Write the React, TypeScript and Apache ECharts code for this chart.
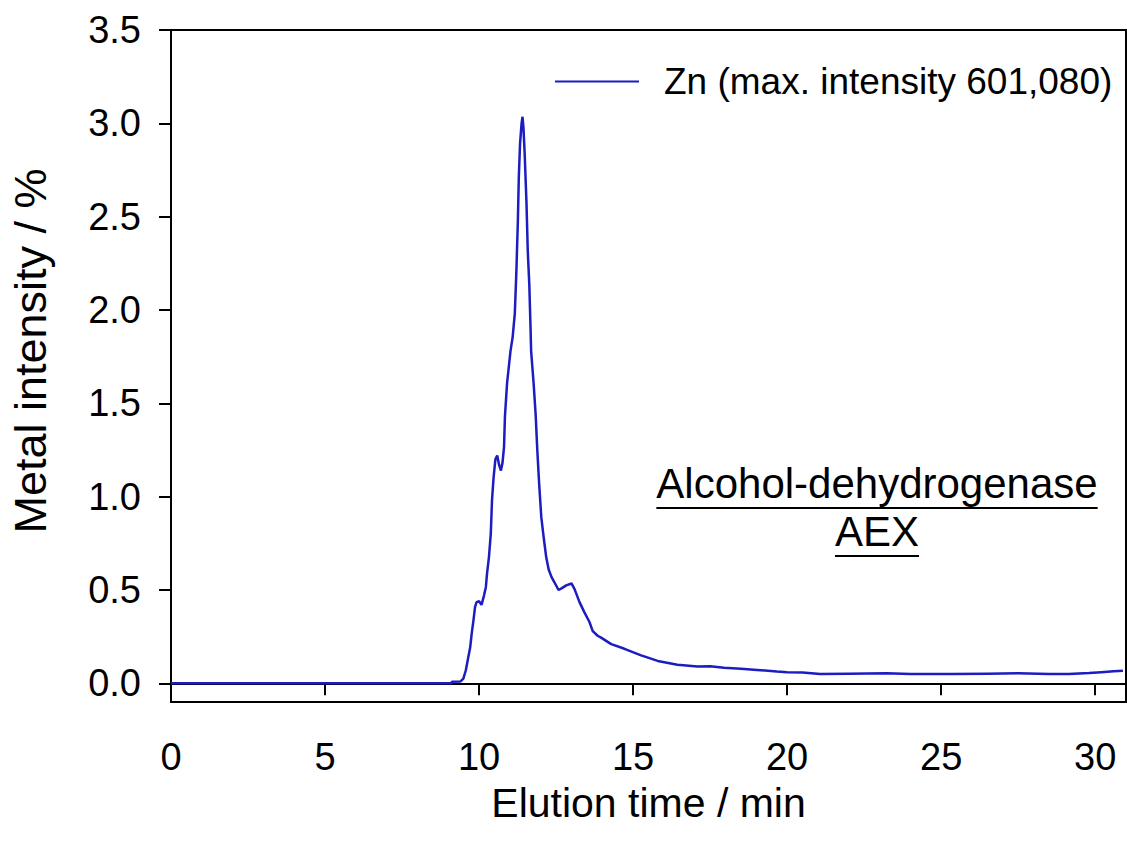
import React, { useEffect, useRef } from "react";
import * as echarts from "echarts";

const timeMin: number[] = [
  0, 9.1, 9.12, 9.4, 9.49, 9.57, 9.65, 9.71, 9.76, 9.82, 9.87, 9.92, 10.0, 10.08, 10.16, 10.22,
  10.26, 10.32, 10.38, 10.42, 10.47, 10.53, 10.59, 10.65, 10.71, 10.76, 10.81, 10.84, 10.91, 11.02,
  11.09, 11.16, 11.21, 11.26, 11.29, 11.33, 11.38, 11.41, 11.44, 11.48, 11.54, 11.58, 11.63, 11.67,
  11.69, 11.77, 11.84, 11.89, 11.95, 12.02, 12.11, 12.18, 12.26, 12.35, 12.45, 12.58, 12.69, 12.83,
  13.0, 13.1, 13.26, 13.42, 13.58, 13.69, 13.85, 13.96, 14.29, 14.72, 15.26, 15.8, 16.44, 17.09,
  17.5, 17.95, 18.5, 19.03, 19.67, 20.0, 20.5, 21.07, 22.0, 23.23, 24.0, 25.38, 26.5, 27.5, 28.5,
  29.15, 29.8, 30.2, 30.6, 30.9,
];

const znIntensity: number[] = [
  0, 0, 0.008, 0.01, 0.025, 0.07, 0.14, 0.19, 0.265, 0.34, 0.41, 0.435, 0.44, 0.42, 0.47, 0.515,
  0.59, 0.675, 0.8, 0.98, 1.1, 1.2, 1.22, 1.17, 1.14, 1.18, 1.265, 1.43, 1.61, 1.78,
  1.855, 1.98, 2.2, 2.48, 2.71, 2.89, 3.0, 3.035, 2.98, 2.84, 2.57, 2.32, 2.14, 1.91,
  1.78, 1.61, 1.43, 1.25, 1.07, 0.89, 0.765, 0.675, 0.61, 0.57, 0.54, 0.5, 0.51, 0.525,
  0.535, 0.505, 0.435, 0.38, 0.33, 0.28, 0.255, 0.245, 0.21, 0.185, 0.15, 0.12, 0.1, 0.09,
  0.092, 0.083, 0.078, 0.072, 0.063, 0.06, 0.058, 0.05, 0.052, 0.054, 0.05, 0.05, 0.052, 0.054, 0.05,
  0.05, 0.055, 0.06, 0.065, 0.068,
];

const xTicks: number[] = [0, 5, 10, 15, 20, 25, 30];
const yTicks: number[] = [0, 0.5, 1.0, 1.5, 2.0, 2.5, 3.0, 3.5];

const seriesName = "Zn (max. intensity 601,080)";
const annotationLines: string[] = ["Alcohol-dehydrogenase", "AEX"];

const FONT = "'Liberation Sans', Arial, Helvetica, sans-serif";
const LINE_COLOR = "#1c1cc0";

function measure(text: string, size: number): number {
  const c = document.createElement("canvas");
  const ctx = c.getContext("2d");
  if (!ctx) return text.length * size * 0.5;
  ctx.font = `${size}px ${FONT}`;
  return ctx.measureText(text).width;
}

export default function App() {
  const ref = useRef<HTMLDivElement>(null);

  useEffect(() => {
    if (!ref.current) return;
    const chart = echarts.init(ref.current, undefined, { renderer: "svg" });

    const annSize = 42;
    const annCx = 877;
    const annBase = [504, 552];
    const graphics: any[] = [];
    annotationLines.forEach((txt, i) => {
      const w = measure(txt, annSize);
      graphics.push({
        type: "text",
        style: {
          text: txt,
          x: annCx,
          y: annBase[i],
          textAlign: "center",
          textVerticalAlign: "bottom",
          font: `${annSize}px ${FONT}`,
          fill: "#000",
        },
        z: 10,
      });
      graphics.push({
        type: "line",
        shape: { x1: annCx - w / 2, y1: annBase[i] + 4, x2: annCx + w / 2, y2: annBase[i] + 4 },
        style: { stroke: "#000", lineWidth: 2 },
        z: 10,
      });
    });

    const data = timeMin.map((t, i) => [t, znIntensity[i]]);

    chart.setOption({
      animation: false,
      backgroundColor: "#fff",
      textStyle: { fontFamily: FONT },
      grid: {
        left: 168,
        top: 30,
        right: 1,
        bottom: 146,
        show: true,
        borderColor: "#000",
        borderWidth: 2,
        backgroundColor: "transparent",
      },
      legend: {
        show: true,
        left: 550,
        top: 58,
        icon: "rect",
        itemWidth: 84,
        itemHeight: 2,
        textStyle: { fontSize: 37, color: "#000", fontFamily: FONT, padding: [0, 0, 0, 20] },
        data: [seriesName],
      },
      xAxis: {
        type: "value",
        min: 0,
        max: 31,
        name: "Elution time / min",
        nameLocation: "middle",
        nameGap: 80,
        nameTextStyle: { fontSize: 41, color: "#000", fontFamily: FONT },
        axisLine: { show: true, lineStyle: { color: "#000", width: 2 } },
        axisTick: { show: true, inside: false, length: 12, lineStyle: { color: "#000", width: 2 }, customValues: xTicks },
        axisLabel: {
          show: true,
          fontSize: 38,
          color: "#000",
          fontFamily: FONT,
          margin: 36,
          customValues: xTicks,
          formatter: (v: number) => String(v),
        },
        splitLine: { show: false },
      },
      yAxis: {
        type: "value",
        min: -0.1,
        max: 3.5,
        name: "Metal intensity / %",
        nameLocation: "middle",
        nameGap: 118,
        nameTextStyle: { fontSize: 45, color: "#000", fontFamily: FONT, padding: [0, 0, 0, 30] },
        axisLine: { show: true, lineStyle: { color: "#000", width: 2 } },
        axisTick: { show: true, inside: false, length: 12, lineStyle: { color: "#000", width: 2 }, customValues: yTicks },
        axisLabel: {
          show: true,
          fontSize: 38,
          color: "#000",
          fontFamily: FONT,
          margin: 30,
          customValues: yTicks,
          formatter: (v: number) => v.toFixed(1),
        },
        splitLine: { show: false },
      },
      series: [
        {
          type: "line",
          name: seriesName,
          data,
          showSymbol: false,
          symbol: "none",
          lineStyle: { color: LINE_COLOR, width: 2.5 },
          itemStyle: { color: LINE_COLOR },
          clip: true,
        },
      ],
      graphic: graphics,
    });

    return () => chart.dispose();
  }, []);

  return (
    <div
      ref={ref}
      style={{ position: "absolute", left: 0, top: 0, width: 1127, height: 848, background: "#fff" }}
    />
  );
}
